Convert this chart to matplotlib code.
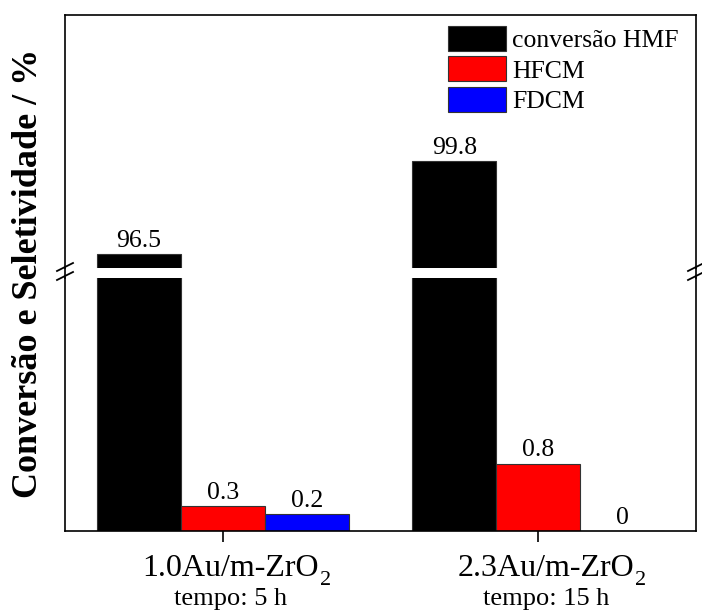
import matplotlib
matplotlib.use("Agg")
import matplotlib.pyplot as plt
from matplotlib.lines import Line2D
from matplotlib.patches import Patch
import numpy as np

plt.rcParams["font.family"] = ["Liberation Serif", "DejaVu Serif"]

# Catalysts, reaction times and results (%)
catalysts = ["1.0Au/m-ZrO", "2.3Au/m-ZrO"]
subscripts = ["2", "2"]
tempos = ["tempo: 5 h", "tempo: 15 h"]
series_names = ["conversão HMF", "HFCM", "FDCM"]
conversao_hmf = [96.5, 99.8]
hfcm = [0.3, 0.8]
fdcm = [0.2, 0.0]
value_labels = [["96.5", "99.8"], ["0.3", "0.8"], ["0.2", "0"]]
colors = ["#000000", "#ff0000", "#0000ff"]

# Broken y-axis ranges
low_range = (0, 3)
high_range = (96, 105)

W, H = 702, 615
fig = plt.figure(figsize=(W / 100, H / 100), dpi=100)

left_px, right_px = 65, 696
top_px, bottom_px = 15, 531
gap_top_px, gap_bot_px = 268, 278

def fx(px):
    return px / W

def fy(py):
    return 1 - py / H

ax_hi = fig.add_axes([fx(left_px), fy(gap_top_px), fx(right_px) - fx(left_px), fy(top_px) - fy(gap_top_px)])
ax_lo = fig.add_axes([fx(left_px), fy(bottom_px), fx(right_px) - fx(left_px), fy(gap_bot_px) - fy(bottom_px)])

x = np.arange(len(catalysts))
width = 0.266
data = [conversao_hmf, hfcm, fdcm]
offsets = [-width, 0, width]

spine_lw = 1.2
for ax, rng in ((ax_hi, high_range), (ax_lo, low_range)):
    for i, vals in enumerate(data):
        bars = ax.bar(x + offsets[i], vals, width, color=colors[i],
                      edgecolor="#333333", linewidth=0.8, zorder=2)
        for b, v, lab in zip(bars, vals, value_labels[i]):
            if rng[0] <= v <= rng[1]:
                ax.annotate(lab, (b.get_x() + b.get_width() / 2, v),
                            xytext=(0, 1.5), textcoords="offset points",
                            ha="center", va="bottom", fontsize=18.5)
    ax.set_ylim(*rng)
    ax.set_xlim(-0.5, 1.5)
    ax.set_yticks([])
    for s in ax.spines.values():
        s.set_linewidth(spine_lw)

ax_hi.spines["bottom"].set_visible(False)
ax_hi.set_xticks([])
ax_lo.spines["top"].set_visible(False)
ax_lo.set_xticks(x)
ax_lo.set_xticklabels(["", ""])
ax_lo.tick_params(axis="x", direction="out", length=8, width=spine_lw)

# Category labels with a lowered subscript, and the reaction time beneath
xtrans = ax_lo.get_xaxis_transform()
label_shift = 0.025
for xi, name, sub, t in zip(x, catalysts, subscripts, tempos):
    main = ax_lo.text(xi + label_shift, -0.176, name, transform=xtrans,
                      ha="center", va="baseline", fontsize=23)
    ax_lo.annotate(sub, xy=(1.0, 0.0), xycoords=main, xytext=(0.5, -1.8),
                   textcoords="offset points", ha="left", va="baseline",
                   fontsize=16)
    ax_lo.text(xi + label_shift, -0.292, t, transform=xtrans,
               ha="center", va="baseline", fontsize=19)

# Continue side spines through the gap and draw break marks
for px in (left_px, right_px):
    fig.add_artist(Line2D([fx(px), fx(px)], [fy(gap_top_px), fy(gap_bot_px)],
                          color="black", lw=spine_lw, transform=fig.transFigure))
    for py in (gap_top_px - 1, gap_bot_px - 2):
        fig.add_artist(Line2D([fx(px - 8), fx(px + 8)], [fy(py + 4), fy(py - 4)],
                              color="black", lw=1.3, transform=fig.transFigure))

fig.text(fx(29), fy(273), "Conversão e Seletividade / %", rotation=90,
         ha="center", va="center", fontsize=26, fontweight="bold")

handles = [Patch(facecolor=c, edgecolor="#333333", linewidth=0.8) for c in colors]
fig.legend(handles, series_names, loc="upper left",
           bbox_to_anchor=(fx(448), fy(26)), frameon=False, fontsize=18.5,
           handlelength=2.25, handleheight=1.12, labelspacing=0.16,
           handletextpad=0.25, borderpad=0, borderaxespad=0)

fig.savefig("out.png", dpi=100)
